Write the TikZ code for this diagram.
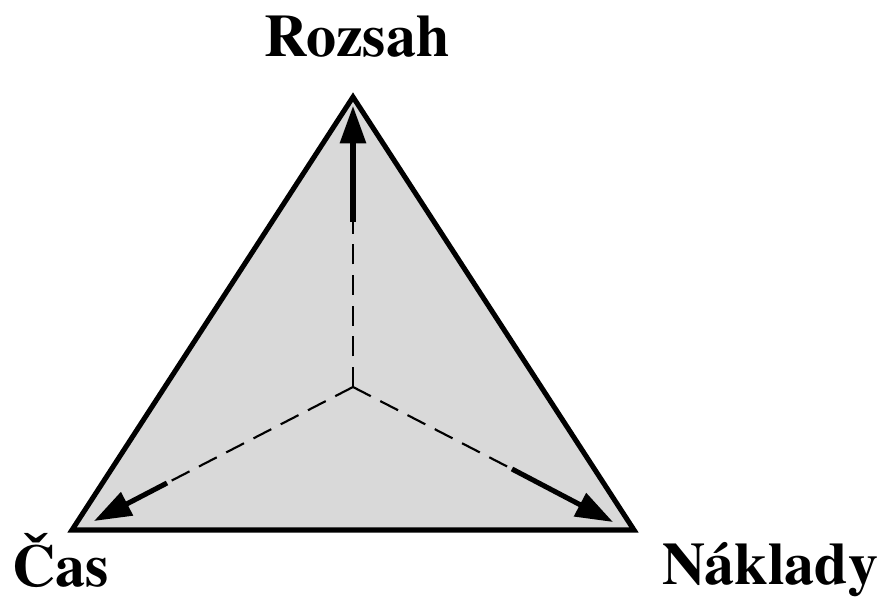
\documentclass[tikz,border=0pt]{standalone}
\usepackage{fontspec}
\setmainfont{texgyretermes}[Extension=.otf,UprightFont=*-regular,BoldFont=*-bold]
\usetikzlibrary{arrows.meta}
\definecolor{trifill}{HTML}{D9D9D9}

\begin{document}
\begin{tikzpicture}[x=0.75pt,y=-0.75pt,
  lbl/.style={font=\fontsize{45}{50}\selectfont\bfseries,inner sep=0pt},
  axis/.style={black,line width=1.6pt,dash pattern=on 15pt off 8pt},
  arr/.style={-{Triangle[length=28pt,width=19pt]},black,line width=3.8pt}]
\useasboundingbox (0,0) rectangle (886,598);
\coordinate (top) at (353,97);
\coordinate (bl) at (72,530);
\coordinate (br) at (634,530);
\coordinate (o) at (353,387);
\fill[trifill,draw=black,line width=3.8pt,line join=miter] (top) -- (br) -- (bl) -- cycle;
% dashed part and solid arrow on each axis
\coordinate (s1) at (353,222);
\coordinate (t1) at (353,106);
\coordinate (s2) at (167,483);
\coordinate (t2) at (94,521);
\coordinate (s3) at (512,469);
\coordinate (t3) at (613,522);
\foreach \s/\t in {s1/t1,s2/t2,s3/t3}{
  \draw[axis] (o) -- (\s);
  \draw[arr] (\s) -- (\t);}
\node[lbl,anchor=base] (rozsah) at (357,57) {Rozsah};
\node[lbl,anchor=base west] (cas) at (12,586) {Čas};
\node[lbl,anchor=base west] (naklady) at (662,585) {Náklady};
\end{tikzpicture}
\end{document}
